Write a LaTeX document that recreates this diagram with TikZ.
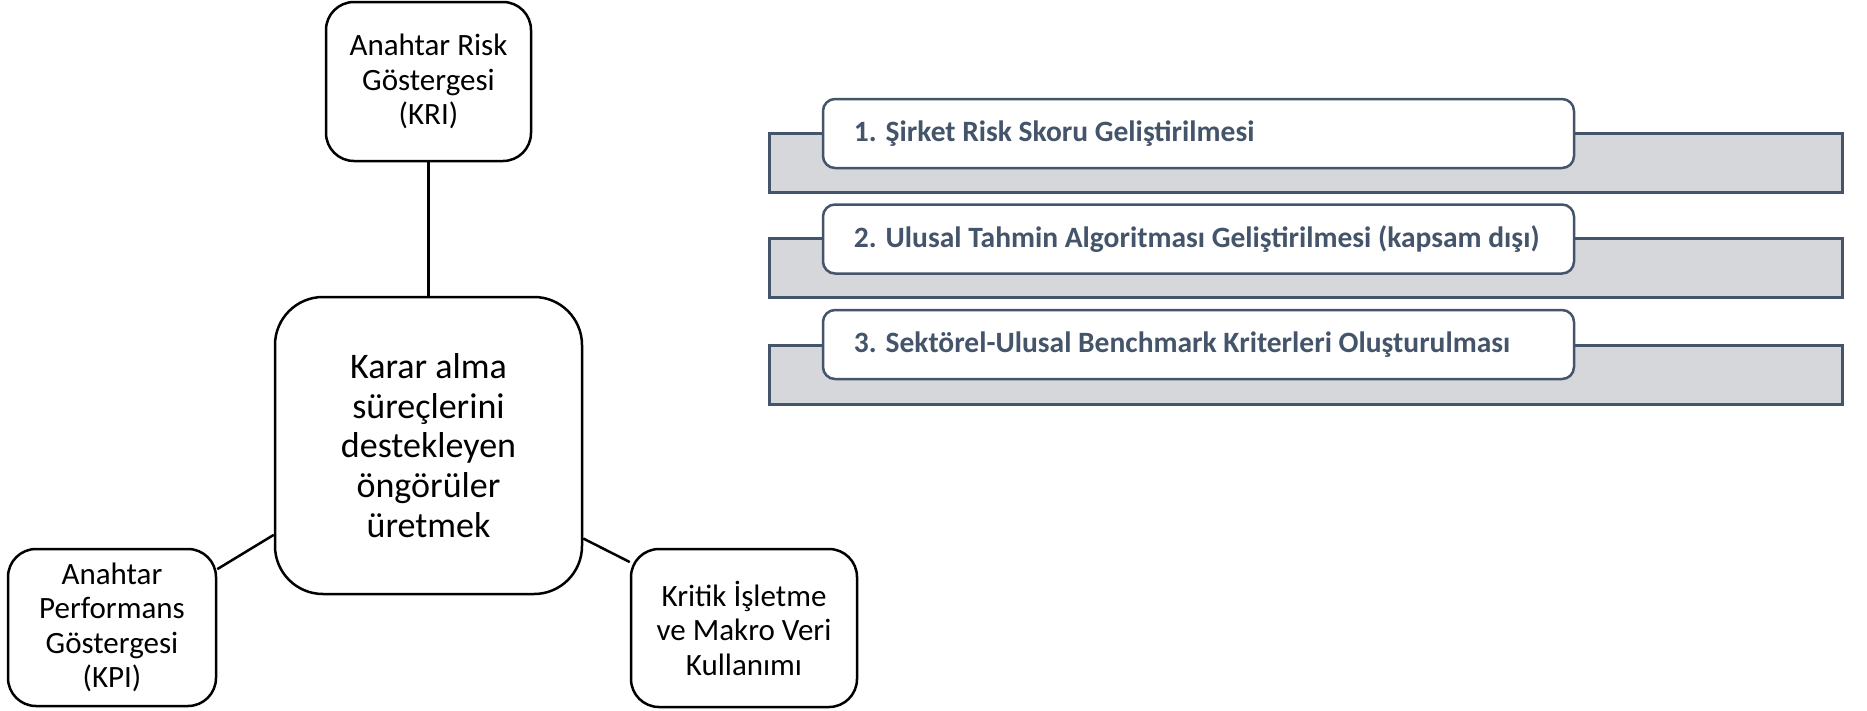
\documentclass[tikz,border=0pt]{standalone}
\usepackage{fontspec}
\setmainfont{Carlito}
\definecolor{slate}{HTML}{44546A}
\definecolor{bargray}{HTML}{D5D7DB}
\begin{document}
\begin{tikzpicture}[x=1pt,y=-1pt,
  mbox/.style={draw=black, line width=2.5pt, fill=white, rounded corners=28pt, align=center, inner sep=0pt, font=\fontsize{31}{34.5}\selectfont},
  cbox/.style={draw=black, line width=2.5pt, fill=white, rounded corners=48pt, align=center, inner sep=0pt, font=\fontsize{36}{39.6}\selectfont},
  link/.style={draw=black, line width=2.5pt},
  bar/.style={draw=slate, line width=3pt, fill=bargray, inner sep=0pt, minimum width=1073pt, minimum height=59pt},
  item/.style={draw=slate, line width=2.5pt, fill=white, rounded corners=12pt, inner sep=0pt, minimum width=751pt, minimum height=69pt},
  itemtext/.style={anchor=west, text=slate, inner sep=0pt, font=\fontsize{29.5}{33}\selectfont\bfseries}
]
\useasboundingbox (0,0) rectangle (1867,710);

% left diagram
\node[mbox, minimum width=205pt, minimum height=159pt] (kri) at (428.5,81.5) {Anahtar Risk\\Göstergesi\\(KRI)};
\node[cbox, minimum width=307pt, minimum height=297pt] (main) at (428.5,445.5) {Karar alma\\süreçlerini\\destekleyen\\öngörüler\\üretmek};
\node[mbox, minimum width=208pt, minimum height=157pt] (kpi) at (112,627.5) {Anahtar\\Performans\\Göstergesi\\(KPI)};
\node[mbox, minimum width=226pt, minimum height=158pt] (krit) at (744,628) {Kritik İşletme\\ve Makro Veri\\Kullanımı};

\draw[link] (kri.south) -- (main.north);
\draw[link] (kpi.29.4) -- (main.210.4);
\draw[link] (main.329.8) -- (krit.150.1);

% right list
\node[bar] (bar1) at (1305.5,162.5) {};
\node[item] (box1) at (1198.5,133.5) {};
\node[itemtext] (t1) at ([xshift=32pt]box1.west) {1. Şirket Risk Skoru Geliştirilmesi};

\node[bar] (bar2) at (1305.5,268) {};
\node[item] (box2) at (1198.5,239) {};
\node[itemtext] (t2) at ([xshift=32pt]box2.west) {2. Ulusal Tahmin Algoritması Geliştirilmesi (kapsam dışı)};

\node[bar] (bar3) at (1305.5,374.5) {};
\node[item] (box3) at (1198.5,344.5) {};
\node[itemtext] (t3) at ([xshift=32pt]box3.west) {3. Sektörel-Ulusal Benchmark Kriterleri Oluşturulması};
\end{tikzpicture}
\end{document}
